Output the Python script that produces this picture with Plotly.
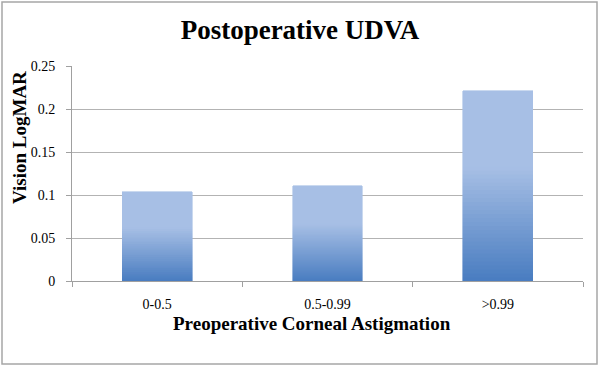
import plotly.graph_objects as go

categories = ["0-0.5", "0.5-0.99", ">0.99"]
values = [0.104, 0.111, 0.221]
title = "Postoperative UDVA"
x_title = "Preoperative Corneal Astigmation"
y_title = "Vision LogMAR"

light = (167, 191, 229)
dark = (72, 124, 192)
N = 48
knee = 0.60  # fraction of bar height from bottom where light flat region starts

def seg_color(f):
    if f >= knee:
        c = light
    else:
        t = f / knee
        c = tuple(round(dark[i] + (light[i] - dark[i]) * t) for i in range(3))
    return "rgb(%d,%d,%d)" % c

fig = go.Figure()
for k in range(N):
    f = (k + 0.5) / N
    fig.add_trace(go.Bar(
        x=categories,
        y=[v / N for v in values],
        marker=dict(color=seg_color(f), line=dict(width=0.6, color=seg_color(f))),
        showlegend=False,
        hoverinfo="skip",
    ))

L, R, T, B = 72, 17, 66, 87
W, H = 600, 368
pw, ph = W - L - R, H - T - B

def px_x(px):
    return (px - L) / pw

def px_y(py):
    return (H - B - py) / ph

SERIF = "Liberation Serif, Times New Roman, serif"

fig.add_shape(type="rect", xref="paper", yref="paper",
              x0=px_x(2), x1=px_x(597), y0=px_y(364), y1=px_y(2),
              line=dict(color="#a6a6a6", width=1.5), fillcolor="rgba(0,0,0,0)", layer="below")

fig.add_annotation(text="<b>%s</b>" % x_title, xref="paper", yref="paper",
                   x=px_x(312), y=px_y(323), xanchor="center", yanchor="middle",
                   showarrow=False, font=dict(size=19, family=SERIF, color="black"))
fig.add_annotation(text="<b>%s</b>" % y_title, xref="paper", yref="paper",
                   x=px_x(19), y=px_y(138), xanchor="center", yanchor="middle", textangle=-90,
                   showarrow=False, font=dict(size=19, family=SERIF, color="black"))

fig.update_layout(
    width=W, height=H,
    margin=dict(l=L, r=R, t=T, b=B, autoexpand=False),
    barmode="stack",
    bargap=0.59,
    paper_bgcolor="white",
    plot_bgcolor="white",
    font=dict(family=SERIF, color="black"),
    title=dict(text="<b>%s</b>" % title, x=px_x(300), xanchor="center", xref="paper",
               y=1 - 30 / H, yanchor="middle",
               font=dict(size=27, family=SERIF, color="black")),
    xaxis=dict(
        type="category",
        tickson="boundaries",
        ticks="outside", ticklen=5, tickcolor="#a0a0a0",
        showline=True, linecolor="#a0a0a0", linewidth=1,
        showgrid=False,
        tickfont=dict(size=14, family=SERIF, color="black"),
        ticklabelstandoff=10,
        automargin=False,
    ),
    yaxis=dict(
        range=[0, 0.25], dtick=0.05,
        ticks="outside", ticklen=5, tickcolor="#a0a0a0",
        showline=True, linecolor="#a0a0a0", linewidth=1,
        showgrid=True, gridcolor="#b3b3b3", gridwidth=1,
        zeroline=False,
        tickfont=dict(size=14, family=SERIF, color="black"),
        ticklabelstandoff=8,
        automargin=False,
    ),
)

fig.write_html("out.html", config={"displayModeBar": False},
               post_script="document.body.style.margin='0px';")
